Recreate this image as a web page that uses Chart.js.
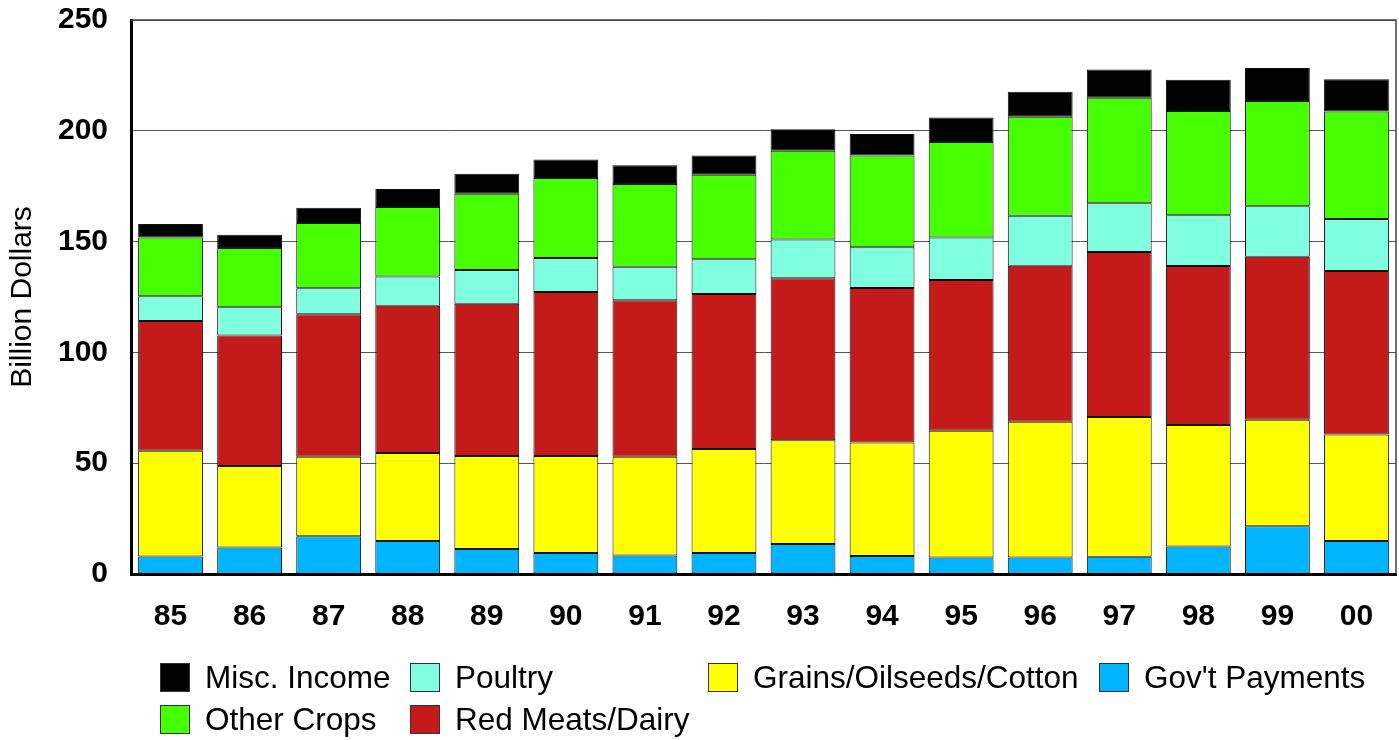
<!DOCTYPE html>
<html>
<head>
<meta charset="utf-8">
<script src="https://cdn.jsdelivr.net/npm/chart.js@4.4.1/dist/chart.umd.min.js"></script>
<style>
  html, body { margin: 0; padding: 0; background: #fff; }
  #wrap { position: relative; width: 1399px; height: 740px; }
</style>
</head>
<body>
<div id="wrap"><canvas id="c"></canvas></div>
<script>
// ---- Data (billion dollars) ----
const years = ['85','86','87','88','89','90','91','92','93','94','95','96','97','98','99','00'];
const govPayments = [7.9, 12.0, 17.0, 14.9, 11.3, 9.5, 8.4, 9.5, 13.5, 8.1, 7.5, 7.5, 7.8, 12.4, 21.6, 14.9];
const grainsOilseedsCotton = [47.7, 36.7, 35.9, 39.7, 42.0, 43.8, 44.5, 46.9, 46.9, 51.2, 57.1, 61.2, 63.1, 54.8, 48.0, 48.0];
const redMeatsDairy = [58.6, 58.9, 64.3, 66.5, 68.6, 74.0, 70.6, 70.0, 73.1, 69.8, 68.1, 70.4, 74.4, 71.8, 73.6, 73.8];
const poultry = [11.1, 12.8, 11.7, 13.1, 15.3, 15.3, 15.2, 15.6, 17.4, 18.3, 19.1, 22.6, 22.0, 22.9, 22.7, 23.5];
const otherCrops = [26.5, 26.7, 29.5, 31.4, 34.4, 36.1, 37.3, 38.2, 40.1, 41.5, 43.2, 44.6, 47.6, 47.0, 47.6, 48.5];
const miscIncome = [6.1, 6.0, 6.9, 8.1, 9.0, 8.4, 8.5, 8.7, 9.7, 9.6, 11.0, 11.3, 12.8, 14.1, 14.8, 14.6];
const yTicks = [0, 50, 100, 150, 200, 250];

const FONT = '"Liberation Sans", Arial, Helvetica, sans-serif';

function ds(label, data, color) {
  return { label, data, backgroundColor: color, borderColor: '#111', borderWidth: 1,
           borderSkipped: false, barPercentage: 0.82, categoryPercentage: 1.0 };
}

// Legend laid out in columns (top row first), as in the reference
const legendLayout = [
  { label: 'Misc. Income', col: 0, row: 0 },
  { label: 'Other Crops', col: 0, row: 1 },
  { label: 'Poultry', col: 1, row: 0 },
  { label: 'Red Meats/Dairy', col: 1, row: 1 },
  { label: 'Grains/Oilseeds/Cotton', col: 2, row: 0 },
  { label: "Gov't Payments", col: 3, row: 0 }
];
const legendColX = [160, 410, 708, 1099];
const legendRowY = [663, 705];

const frameAndLegend = {
  id: 'frameAndLegend',
  afterDraw(chart) {
    const ctx = chart.ctx;
    const a = chart.chartArea;
    ctx.save();
    // top and right frame
    ctx.strokeStyle = '#444';
    ctx.lineWidth = 1.5;
    ctx.beginPath();
    ctx.moveTo(a.left, a.top);
    ctx.lineTo(a.right, a.top);
    ctx.lineTo(a.right, a.bottom);
    ctx.stroke();
    // legend
    ctx.font = '31.5px ' + FONT;
    ctx.textBaseline = 'middle';
    ctx.textAlign = 'left';
    legendLayout.forEach(item => {
      const d = chart.data.datasets.find(x => x.label === item.label);
      const x = legendColX[item.col], y = legendRowY[item.row];
      ctx.fillStyle = d.backgroundColor;
      ctx.fillRect(x, y, 30, 29);
      ctx.strokeStyle = '#333';
      ctx.lineWidth = 1;
      ctx.strokeRect(x + 0.5, y + 0.5, 29, 28);
      ctx.fillStyle = '#000';
      ctx.fillText(item.label, x + 45, y + 16);
    });
    ctx.restore();
  }
};

new Chart(document.getElementById('c'), {
  type: 'bar',
  data: {
    labels: years,
    datasets: [
      ds("Gov't Payments", govPayments, '#00b4ff'),
      ds('Grains/Oilseeds/Cotton', grainsOilseedsCotton, '#ffff00'),
      ds('Red Meats/Dairy', redMeatsDairy, '#c41a1a'),
      ds('Poultry', poultry, '#7fffdf'),
      ds('Other Crops', otherCrops, '#46ff00'),
      ds('Misc. Income', miscIncome, '#000000')
    ]
  },
  options: {
    responsive: true,
    maintainAspectRatio: false,
    animation: false,
    layout: { padding: { top: 20, right: 3, bottom: 96, left: 0 } },
    plugins: { legend: { display: false }, tooltip: { enabled: false } },
    scales: {
      x: {
        stacked: true,
        grid: { display: false, drawTicks: false },
        border: { display: true, color: '#000', width: 3 },
        ticks: { color: '#000', font: { family: FONT, size: 30, weight: 'bold' }, padding: 25, maxRotation: 0 },
        afterFit(scale) { scale.height = 70; }
      },
      y: {
        stacked: true,
        min: 0, max: 250,
        afterBuildTicks(scale) { scale.ticks = yTicks.map(v => ({ value: v })); },
        grid: { color: '#555', lineWidth: 1, drawTicks: false },
        border: { display: true, color: '#000', width: 3 },
        ticks: { color: '#000', font: { family: FONT, size: 30, weight: 'bold' }, padding: 23 },
        title: { display: true, text: 'Billion Dollars', color: '#000',
                 font: { family: FONT, size: 30, weight: 'normal' }, padding: { top: 5, bottom: 0 } },
        afterFit(scale) { scale.width = 131; scale.paddingTop = 0; scale.paddingBottom = 0; }
      }
    }
  },
  plugins: [frameAndLegend]
});
</script>
</body>
</html>
